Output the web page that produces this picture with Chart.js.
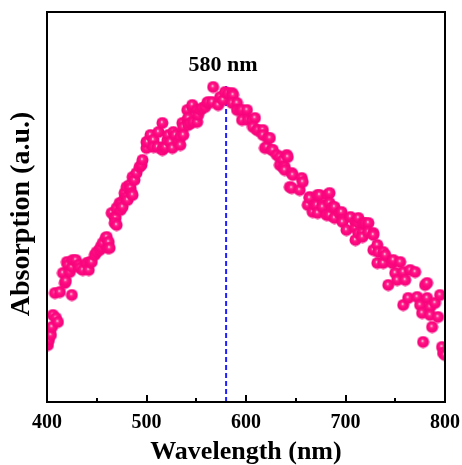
<!DOCTYPE html>
<html>
<head>
<meta charset="utf-8">
<script src="https://cdn.jsdelivr.net/npm/chart.js@4/dist/chart.umd.min.js"></script>
<style>
html,body{margin:0;padding:0;background:#fff;}
canvas{display:block;}
</style>
</head>
<body>
<canvas id="c" width="462" height="465"></canvas>
<script>
// ---- data ----
const wavelength = [
401,402,403,404,405,406,409,411,408,413,416,418,419,420,421,423,425,425,426,429,
432,433,436,440,442,443,445,448,450,453,454,456,459,460,461,462,463,465,468,469,
468,470,470,473,474,475,476,478,478,480,480,481,483,484,485,486,486,488,490,493,
495,496,500,500,501,504,507,507,511,512,516,516,517,519,521,522,524,526,527,529,
532,534,534,536,537,537,541,541,542,542,544,546,546,547,551,551,552,554,556,559,
561,562,566,567,572,574,577,579,582,586,587,586,591,591,594,596,596,601,602,606,
609,607,611,612,617,617,619,621,622,624,626,627,631,634,634,637,637,639,639,641,
642,644,646,646,647,654,656,657,662,664,664,667,669,671,672,672,674,677,677,681,
682,684,684,684,687,689,689,694,696,697,697,701,705,710,710,710,712,713,713,717,
717,718,720,723,723,728,728,728,732,732,733,738,738,740,743,747,748,750,752,755,
758,758,760,763,765,770,772,775,777,778,780,782,782,785,785,787,790,793,795,797,
798,800
];
const absorption = [
0.57,0.62,0.70,0.67,0.75,0.87,0.84,0.80,1.09,1.10,1.29,1.19,1.21,1.40,1.37,1.30,1.35,1.07,1.42,1.42,
1.37,1.34,1.32,1.39,1.32,1.40,1.40,1.47,1.50,1.52,1.55,1.59,1.64,1.65,1.54,1.60,1.54,1.89,1.85,1.84,
1.79,1.77,1.94,1.99,1.92,1.99,1.95,2.04,2.09,2.05,2.15,2.02,2.17,2.14,2.09,2.25,2.07,2.22,2.29,2.35,
2.37,2.42,2.54,2.60,2.60,2.67,2.62,2.55,2.55,2.70,2.52,2.79,2.55,2.55,2.62,2.67,2.60,2.54,2.70,2.67,
2.60,2.65,2.57,2.79,2.75,2.67,2.82,2.92,2.84,2.77,2.79,2.95,2.97,2.80,2.92,2.80,2.87,2.92,2.94,2.95,
2.99,3.00,3.00,3.15,2.97,3.05,3.02,3.10,3.09,3.09,3.07,2.99,2.99,2.92,2.92,2.92,2.82,2.92,2.82,2.82,
2.84,2.75,2.72,2.72,2.72,2.67,2.54,2.55,2.64,2.64,2.52,2.52,2.47,2.45,2.37,2.42,2.35,2.35,2.32,2.47,
2.45,2.15,2.29,2.14,2.27,2.12,2.24,2.20,1.97,2.05,2.04,1.90,1.97,1.97,2.07,1.89,2.07,1.97,1.95,1.87,
2.07,2.09,1.99,1.87,1.95,1.95,1.84,1.89,1.90,1.82,1.80,1.72,1.85,1.80,1.74,1.62,1.80,1.84,1.69,1.69,
1.65,1.79,1.79,1.79,1.70,1.69,1.67,1.52,1.57,1.39,1.50,1.50,1.39,1.47,1.17,1.39,1.42,1.29,1.22,1.40,
1.30,0.97,1.22,1.04,1.32,1.30,1.05,0.97,0.89,0.60,1.17,1.19,1.04,0.95,0.87,0.75,0.99,0.85,1.07,0.55,
0.49,0.47
];
const xMajorTicks = [400, 500, 600, 700, 800];
const xMinorTicks = [450, 550, 650, 750];
const peakWavelength = 580;
const peakLineTop = 3.16;
const peakLabel = '580 nm';
const peakLabelLevel = 3.37;
const xTitle = 'Wavelength (nm)';
const yTitle = 'Absorption (a.u.)';

// ---- styling ----
const FONT = '"Liberation Serif", "Times New Roman", serif';

function sphere(r) {
  const s = Math.ceil(2 * r) + 1;
  const c = document.createElement('canvas');
  c.width = s; c.height = s;
  const g = c.getContext('2d');
  const cx = s / 2, cy = s / 2;
  const grd = g.createRadialGradient(cx - 0.8, cy - 1.2, 0, cx, cy, r);
  grd.addColorStop(0, '#ffffff');
  grd.addColorStop(0.08, '#ffe0ee');
  grd.addColorStop(0.22, '#ff3090');
  grd.addColorStop(0.5, '#ff0a82');
  grd.addColorStop(1, '#f5047b');
  g.fillStyle = grd;
  g.beginPath();
  g.arc(cx, cy, r, 0, Math.PI * 2);
  g.fill();
  return c;
}
const ball = sphere(6);

const points = wavelength.map((w, i) => ({ x: w, y: absorption[i] }));

const framePlugin = {
  id: 'frame',
  afterDatasetsDraw(chart) {
    const { ctx, chartArea: a, scales } = chart;
    const xs = scales.x, ys = scales.y;
    ctx.save();
    ctx.strokeStyle = '#000';
    ctx.lineWidth = 2;
    ctx.strokeRect(a.left, a.top, a.right - a.left, a.bottom - a.top);
    ctx.beginPath();
    xMajorTicks.forEach(v => {
      const px = Math.round(xs.getPixelForValue(v));
      ctx.moveTo(px, a.bottom); ctx.lineTo(px, a.bottom - 7);
    });
    xMinorTicks.forEach(v => {
      const px = Math.round(xs.getPixelForValue(v));
      ctx.moveTo(px, a.bottom); ctx.lineTo(px, a.bottom - 4);
    });
    ctx.stroke();
    // peak label
    ctx.fillStyle = '#000';
    ctx.font = 'bold 22px ' + FONT;
    ctx.textAlign = 'center';
    ctx.textBaseline = 'middle';
    ctx.fillText(peakLabel, xs.getPixelForValue(peakWavelength) - 3, ys.getPixelForValue(peakLabelLevel));
    ctx.restore();
  }
};

new Chart(document.getElementById('c'), {
  type: 'scatter',
  data: {
    datasets: [
      {
        label: 'peak',
        type: 'line',
        data: [{ x: peakWavelength, y: 0 }, { x: peakWavelength, y: peakLineTop }],
        borderColor: '#1f1fff',
        borderWidth: 2,
        borderDash: [5, 3],
        pointRadius: 0,
        order: 2
      },
      {
        label: 'Absorption',
        data: points,
        pointStyle: ball,
        pointRadius: 6,
        order: 1
      }
    ]
  },
  options: {
    responsive: false,
    animation: false,
    events: [],
    layout: { padding: { top: 12, right: 17, bottom: 0, left: 8 } },
    plugins: { legend: { display: false }, tooltip: { enabled: false } },
    scales: {
      x: {
        type: 'linear',
        min: 400, max: 800,
        afterBuildTicks(scale) { scale.ticks = xMajorTicks.map(v => ({ value: v })); },
        afterFit(scale) { scale.height = 63; scale.paddingLeft = 0; scale.paddingRight = 0; },
        grid: { display: false },
        border: { display: false },
        ticks: {
          color: '#000',
          padding: 1,
          maxRotation: 0,
          autoSkip: false,
          font: { family: FONT, size: 20, weight: 'bold' }
        },
        title: {
          display: true,
          text: xTitle,
          color: '#000',
          padding: { top: 0, bottom: 0 },
          font: { family: FONT, size: 26, weight: 'bold', lineHeight: 1 }
        }
      },
      y: {
        type: 'linear',
        min: 0, max: 3.9,
        afterFit(scale) { scale.width = 39; scale.paddingTop = 0; scale.paddingBottom = 0; },
        grid: { display: false },
        border: { display: false },
        ticks: { display: false },
        title: {
          display: true,
          text: yTitle + '  ',
          color: '#000',
          padding: { top: 0, bottom: 0 },
          font: { family: FONT, size: 28, weight: 'bold', lineHeight: 1 }
        }
      }
    }
  },
  plugins: [framePlugin]
});
</script>
</body>
</html>
